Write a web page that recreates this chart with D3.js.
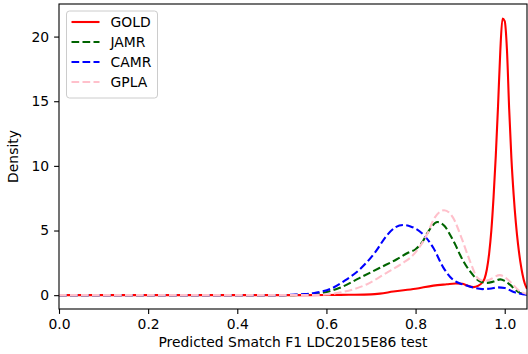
<!DOCTYPE html>
<html>
<head>
<meta charset="utf-8">
<script src="https://cdn.jsdelivr.net/npm/d3@7"></script>
<style>
  body { margin: 0; background: #fff; }
  text { font-family: "DejaVu Sans", sans-serif; }
</style>
</head>
<body>
<div id="chart"></div>
<script>
// density curves
var goldX = [0, 0.55, 0.6, 0.65, 0.7, 0.72, 0.75, 0.8, 0.84, 0.87, 0.89, 0.905, 0.915, 0.93, 0.94, 0.95, 0.955, 0.96, 0.965, 0.97, 0.975, 0.98, 0.985, 0.99, 0.995, 1.0, 1.005, 1.01, 1.015, 1.02, 1.025, 1.03, 1.035, 1.04, 1.045, 1.05];
var goldY = [0, 0, 0.01, 0.03, 0.06, 0.12, 0.28, 0.49, 0.74, 0.84, 0.9, 0.88, 0.76, 0.62, 0.72, 1.0, 1.3, 2.0, 3.2, 5.0, 7.6, 10.8, 14.6, 18.8, 21.4, 21.2, 19.0, 14.4, 10.6, 7.8, 5.6, 3.9, 2.6, 1.6, 0.9, 0.5];

var jamrX = [0, 0.5, 0.55, 0.59, 0.63, 0.675, 0.72, 0.757, 0.783, 0.8, 0.815, 0.83, 0.849, 0.865, 0.877, 0.89, 0.9, 0.922, 0.944, 0.96, 0.975, 0.99, 1.0, 1.011, 1.025, 1.034, 1.05];
var jamrY = [0, 0, 0.05, 0.18, 0.57, 1.34, 2.12, 2.76, 3.28, 3.55, 4.1, 5.0, 5.66, 5.35, 4.7, 3.85, 3.1, 1.85, 1.08, 0.95, 1.05, 1.22, 1.1, 0.83, 0.4, 0.18, 0.05];

var camrX = [0, 0.5, 0.52, 0.55, 0.57, 0.59, 0.61, 0.64, 0.675, 0.71, 0.735, 0.755, 0.772, 0.79, 0.8, 0.817, 0.84, 0.862, 0.884, 0.9, 0.914, 0.93, 0.95, 0.97, 0.985, 1.0, 1.02, 1.04, 1.05];
var camrY = [0, 0, 0.03, 0.08, 0.15, 0.28, 0.5, 1.1, 2.0, 3.35, 4.6, 5.25, 5.43, 5.3, 5.15, 4.7, 3.65, 2.15, 1.2, 0.9, 0.75, 0.58, 0.47, 0.52, 0.6, 0.55, 0.25, 0.08, 0.03];

var gplaX = [0, 0.55, 0.6, 0.63, 0.66, 0.69, 0.735, 0.772, 0.79, 0.802, 0.824, 0.843, 0.864, 0.884, 0.903, 0.922, 0.94, 0.955, 0.966, 0.989, 1.0, 1.011, 1.034, 1.05];
var gplaY = [0, 0, 0.05, 0.2, 0.45, 0.83, 1.73, 2.5, 2.95, 3.41, 4.57, 6.0, 6.57, 6.0, 4.44, 2.64, 1.3, 1.1, 1.2, 1.55, 1.4, 1.08, 0.31, 0.1];

var seriesNames = ["GOLD", "JAMR", "CAMR", "GPLA"];
var seriesColors = ["red", "darkgreen", "blue", "pink"];
var seriesDashed = [false, true, true, true];
var xTicks = [0, 0.2, 0.4, 0.6, 0.8, 1.0];
var yTicks = [0, 5, 10, 15, 20];

var series = [
  {x: goldX, y: goldY},
  {x: jamrX, y: jamrY},
  {x: camrX, y: camrY},
  {x: gplaX, y: gplaY}
];

var margin = {top: 4, right: 1, bottom: 45, left: 59},
    width = 528 - margin.left - margin.right,
    height = 354 - margin.top - margin.bottom;

var svg = d3.select("#chart")
  .append("svg")
    .attr("width", 528)
    .attr("height", 354)
  .append("g")
    .attr("transform", "translate(" + margin.left + "," + margin.top + ")");

var x = d3.scaleLinear().domain([0, 1.05]).range([0, width]);
var y = d3.scaleLinear().domain([-1.07, 22.52]).range([height, 0]);

svg.append("clipPath").attr("id", "clip")
  .append("rect").attr("width", width).attr("height", height);

var line = d3.line()
  .x(function(d) { return x(d[0]); })
  .y(function(d) { return y(d[1]); })
  .curve(d3.curveMonotoneX);

var plot = svg.append("g").attr("clip-path", "url(#clip)");
series.forEach(function(s, i) {
  var pts = s.x.map(function(v, j) { return [v, s.y[j]]; });
  plot.append("path")
    .datum(pts)
    .attr("d", line)
    .attr("fill", "none")
    .attr("stroke", seriesColors[i])
    .attr("stroke-width", 2.1)
    .attr("stroke-dasharray", seriesDashed[i] ? "7.7,3.3" : null);
});

// axes
var xAxis = svg.append("g")
  .attr("transform", "translate(0," + height + ")")
  .call(d3.axisBottom(x).tickValues(xTicks).tickFormat(d3.format(".1f")).tickSizeOuter(0).tickSize(4.9).tickPadding(4.9));
var yAxis = svg.append("g")
  .call(d3.axisLeft(y).tickValues(yTicks).tickFormat(d3.format("d")).tickSizeOuter(0).tickSize(4.9).tickPadding(4.9));
[xAxis, yAxis].forEach(function(a) {
  a.selectAll("text").attr("font-size", 13.9).attr("fill", "#000").style("font-family", "DejaVu Sans");
  a.selectAll("line").attr("stroke", "#000").attr("stroke-width", 1.1);
  a.select(".domain").remove();
});

svg.append("rect")
  .attr("width", width).attr("height", height)
  .attr("fill", "none").attr("stroke", "#000").attr("stroke-width", 1.1);

svg.append("text")
  .attr("x", width / 2).attr("y", height + 38)
  .attr("text-anchor", "middle").attr("font-size", 13.9)
  .text("Predicted Smatch F1 LDC2015E86 test");

svg.append("text")
  .attr("transform", "translate(" + (-41) + "," + (height / 2) + ") rotate(-90)")
  .attr("text-anchor", "middle").attr("font-size", 13.9)
  .text("Density");

// legend
var legend = svg.append("g").attr("transform", "translate(7.5,7)");
legend.append("rect")
  .attr("width", 91).attr("height", 87).attr("rx", 3)
  .attr("fill", "#fff").attr("fill-opacity", 0.8)
  .attr("stroke", "#ccc").attr("stroke-width", 1);
seriesNames.forEach(function(n, i) {
  var ly = 11 + i * 20;
  legend.append("line")
    .attr("x1", 5).attr("x2", 33).attr("y1", ly).attr("y2", ly)
    .attr("stroke", seriesColors[i]).attr("stroke-width", 2.1)
    .attr("stroke-dasharray", seriesDashed[i] ? "7.7,3.3" : null);
  legend.append("text")
    .attr("x", 44).attr("y", ly + 5).attr("font-size", 13.9)
    .text(n);
});
</script>
</body>
</html>
